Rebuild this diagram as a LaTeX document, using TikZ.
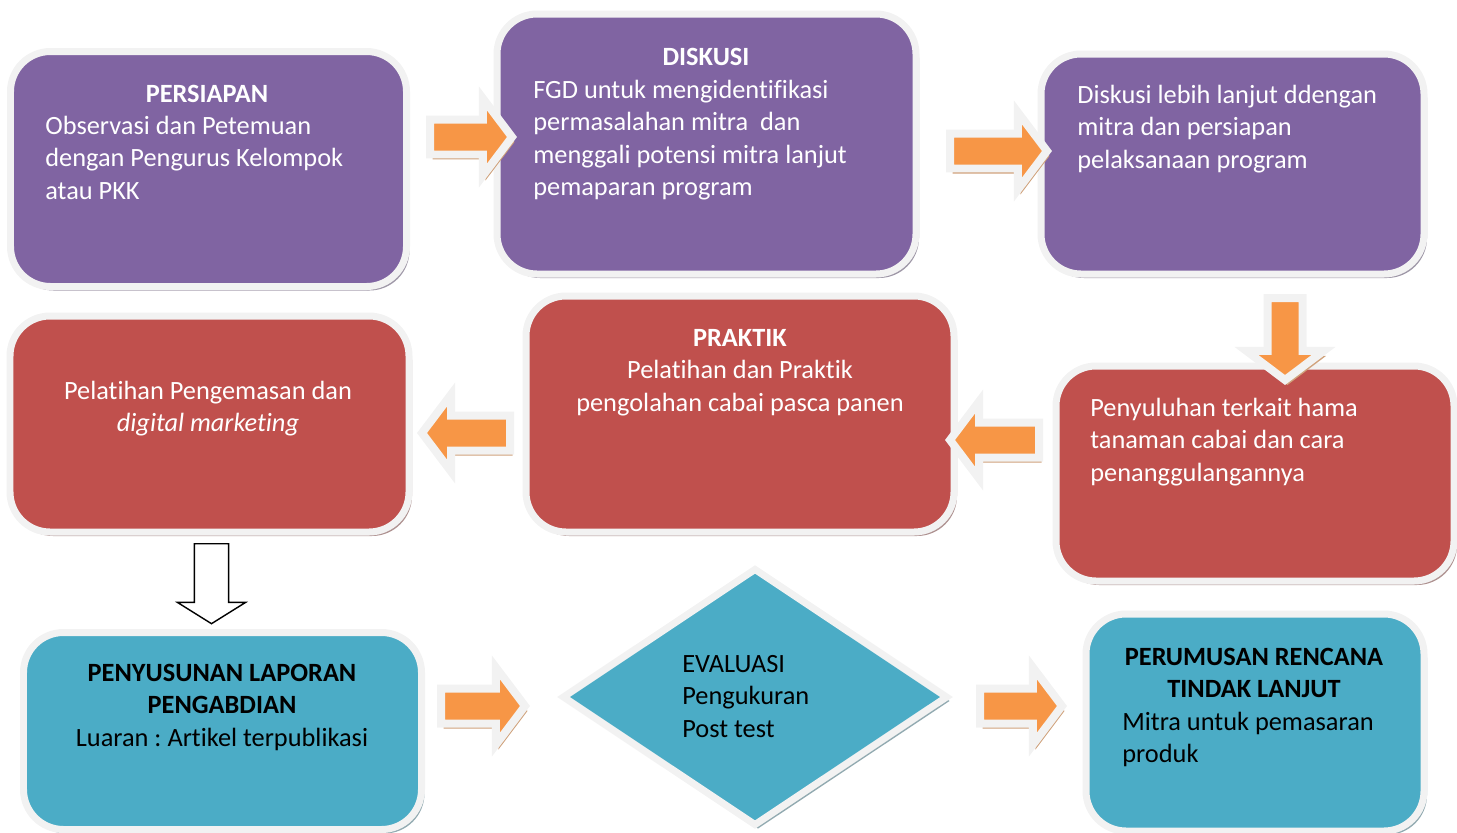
\documentclass[tikz,border=0pt]{standalone}
\usepackage{fontspec}
\setmainfont{Carlito}[Ligatures=NoCommon]
\usetikzlibrary{shapes.geometric, shapes.arrows, shadows}
\frenchspacing

\definecolor{ungu}{HTML}{8064A2}
\definecolor{merah}{HTML}{C0504D}
\definecolor{biru}{HTML}{4BACC6}
\definecolor{tepi}{HTML}{F2F2F2}
\definecolor{oranye}{HTML}{F79646}
\definecolor{bayang}{RGB}{208,162,124}

\begin{document}
\begin{tikzpicture}[x=0.02cm, y=-0.02cm,
    ukuran/.style 2 args={minimum width=#1*0.02cm, minimum height=#2*0.02cm},
    box/.style={rectangle, rounded corners=0.8cm, draw=tepi, line width=0.14cm, inner sep=0pt, fill=#1,
      drop shadow={shadow xshift=0.06cm, shadow yshift=-0.08cm, fill=#1!50!black, opacity=0.5}},
    txt/.style={inner sep=0pt, font=\fontsize{15}{18.5}\selectfont, text=white},
    panah/.style={single arrow, single arrow tip angle=106, single arrow head extend=0.42cm,
      minimum width=1.38cm, minimum height=#1, inner xsep=0pt, inner ysep=0.27cm, anchor=tail,
      fill=oranye, draw=tepi, line width=0.16cm,
      drop shadow={shadow xshift=0.05cm, shadow yshift=-0.1cm, fill=bayang, opacity=1}}]
  \useasboundingbox (0,0) rectangle (1457,832);

  % kotak-kotak tahapan
  \node[box=ungu, ukuran={396}{235}] (persiapan) at (208.5,169) {};
  \node[box=ungu, ukuran={419}{260}] (diskusi) at (706.5,144) {};
  \node[box=ungu, ukuran={383}{220}] (lanjut) at (1232.5,164) {};
  \node[box=merah, ukuran={399}{216}] (kemas) at (209.5,424) {};
  \node[box=merah, ukuran={428}{236}] (praktik) at (740,414) {};
  \node[box=merah, ukuran={398}{215}] (suluh) at (1255,473.5) {};
  \node[box=biru, ukuran={398}{197}] (laporan) at (222.5,731) {};
  \node[diamond, fill=biru, draw=tepi, line width=0.14cm, inner sep=0pt, ukuran={386}{258},
    drop shadow={shadow xshift=0.06cm, shadow yshift=-0.08cm, fill=biru!50!black, opacity=0.5}] (evaluasi) at (755,697) {};
  \node[box=biru, ukuran={338}{217}] (rumus) at (1255,722.5) {};

  \node[txt, anchor=north] (persiapan-j) at (207,79) {\strut\textbf{PERSIAPAN}};
  \node[txt, anchor=north west, align=left] (persiapan-i) at (45,111)
    {\strut Observasi dan Petemuan\\dengan Pengurus Kelompok\\atau PKK};
  \node[txt, anchor=north] (diskusi-j) at (706,42) {\strut\textbf{DISKUSI}};
  \node[txt, anchor=north west, align=left] (diskusi-i) at (533,75)
    {\strut FGD untuk mengidentifikasi\\permasalahan mitra\ \ dan\\menggali potensi mitra lanjut\\pemaparan program};
  \node[txt, anchor=north west, align=left] (lanjut-i) at (1077,80)
    {\strut Diskusi lebih lanjut ddengan\\mitra dan persiapan\\pelaksanaan program};
  \node[txt, anchor=north, align=center] (kemas-i) at (208,376)
    {\strut Pelatihan Pengemasan dan\\\textit{digital marketing}};
  \node[txt, anchor=north, align=center] (praktik-i) at (740,323)
    {\strut\textbf{PRAKTIK}\\Pelatihan dan Praktik\\pengolahan cabai pasca panen};
  \node[txt, anchor=north west, align=left] (suluh-i) at (1090,393)
    {\strut Penyuluhan terkait hama\\tanaman cabai dan cara\\penanggulangannya};
  \node[txt, text=black, anchor=north, align=center] (laporan-i) at (222,658)
    {\strut\textbf{PENYUSUNAN LAPORAN}\\\textbf{PENGABDIAN}\\Luaran : Artikel terpublikasi};
  \node[txt, text=black, anchor=north west, align=left] (evaluasi-i) at (682,649)
    {\strut EVALUASI\\Pengukuran\\Post test};
  \node[txt, text=black, anchor=north, align=center] (rumus-j) at (1254,642)
    {\strut\textbf{PERUMUSAN RENCANA}\\\textbf{TINDAK LANJUT}};
  \node[txt, text=black, anchor=north west, align=left] (rumus-i) at (1122,707)
    {\strut Mitra untuk pemasaran\\produk};

  % panah oranye antar tahapan
  \foreach \n/\x/\y/\r/\l in {1/426/137/0/1.64cm, 2/946/151/0/1.94cm, 3/1285/294/-90/1.64cm,
      4/1043/440/180/1.78cm, 5/514/433/180/1.76cm, 7/437/706/0/1.68cm, 8/976/706/0/1.64cm}
    \node[panah=\l, rotate=\r] (p\n) at (\x,\y) {};
  \node[single arrow, single arrow tip angle=116, single arrow head extend=0.34cm, minimum width=1.34cm,
    minimum height=1.6cm, inner xsep=0pt, inner ysep=0.33cm, anchor=tail, rotate=-90, draw=black,
    fill=white, line width=0.8pt] (p6) at (211.5,543) {};
\end{tikzpicture}
\end{document}
